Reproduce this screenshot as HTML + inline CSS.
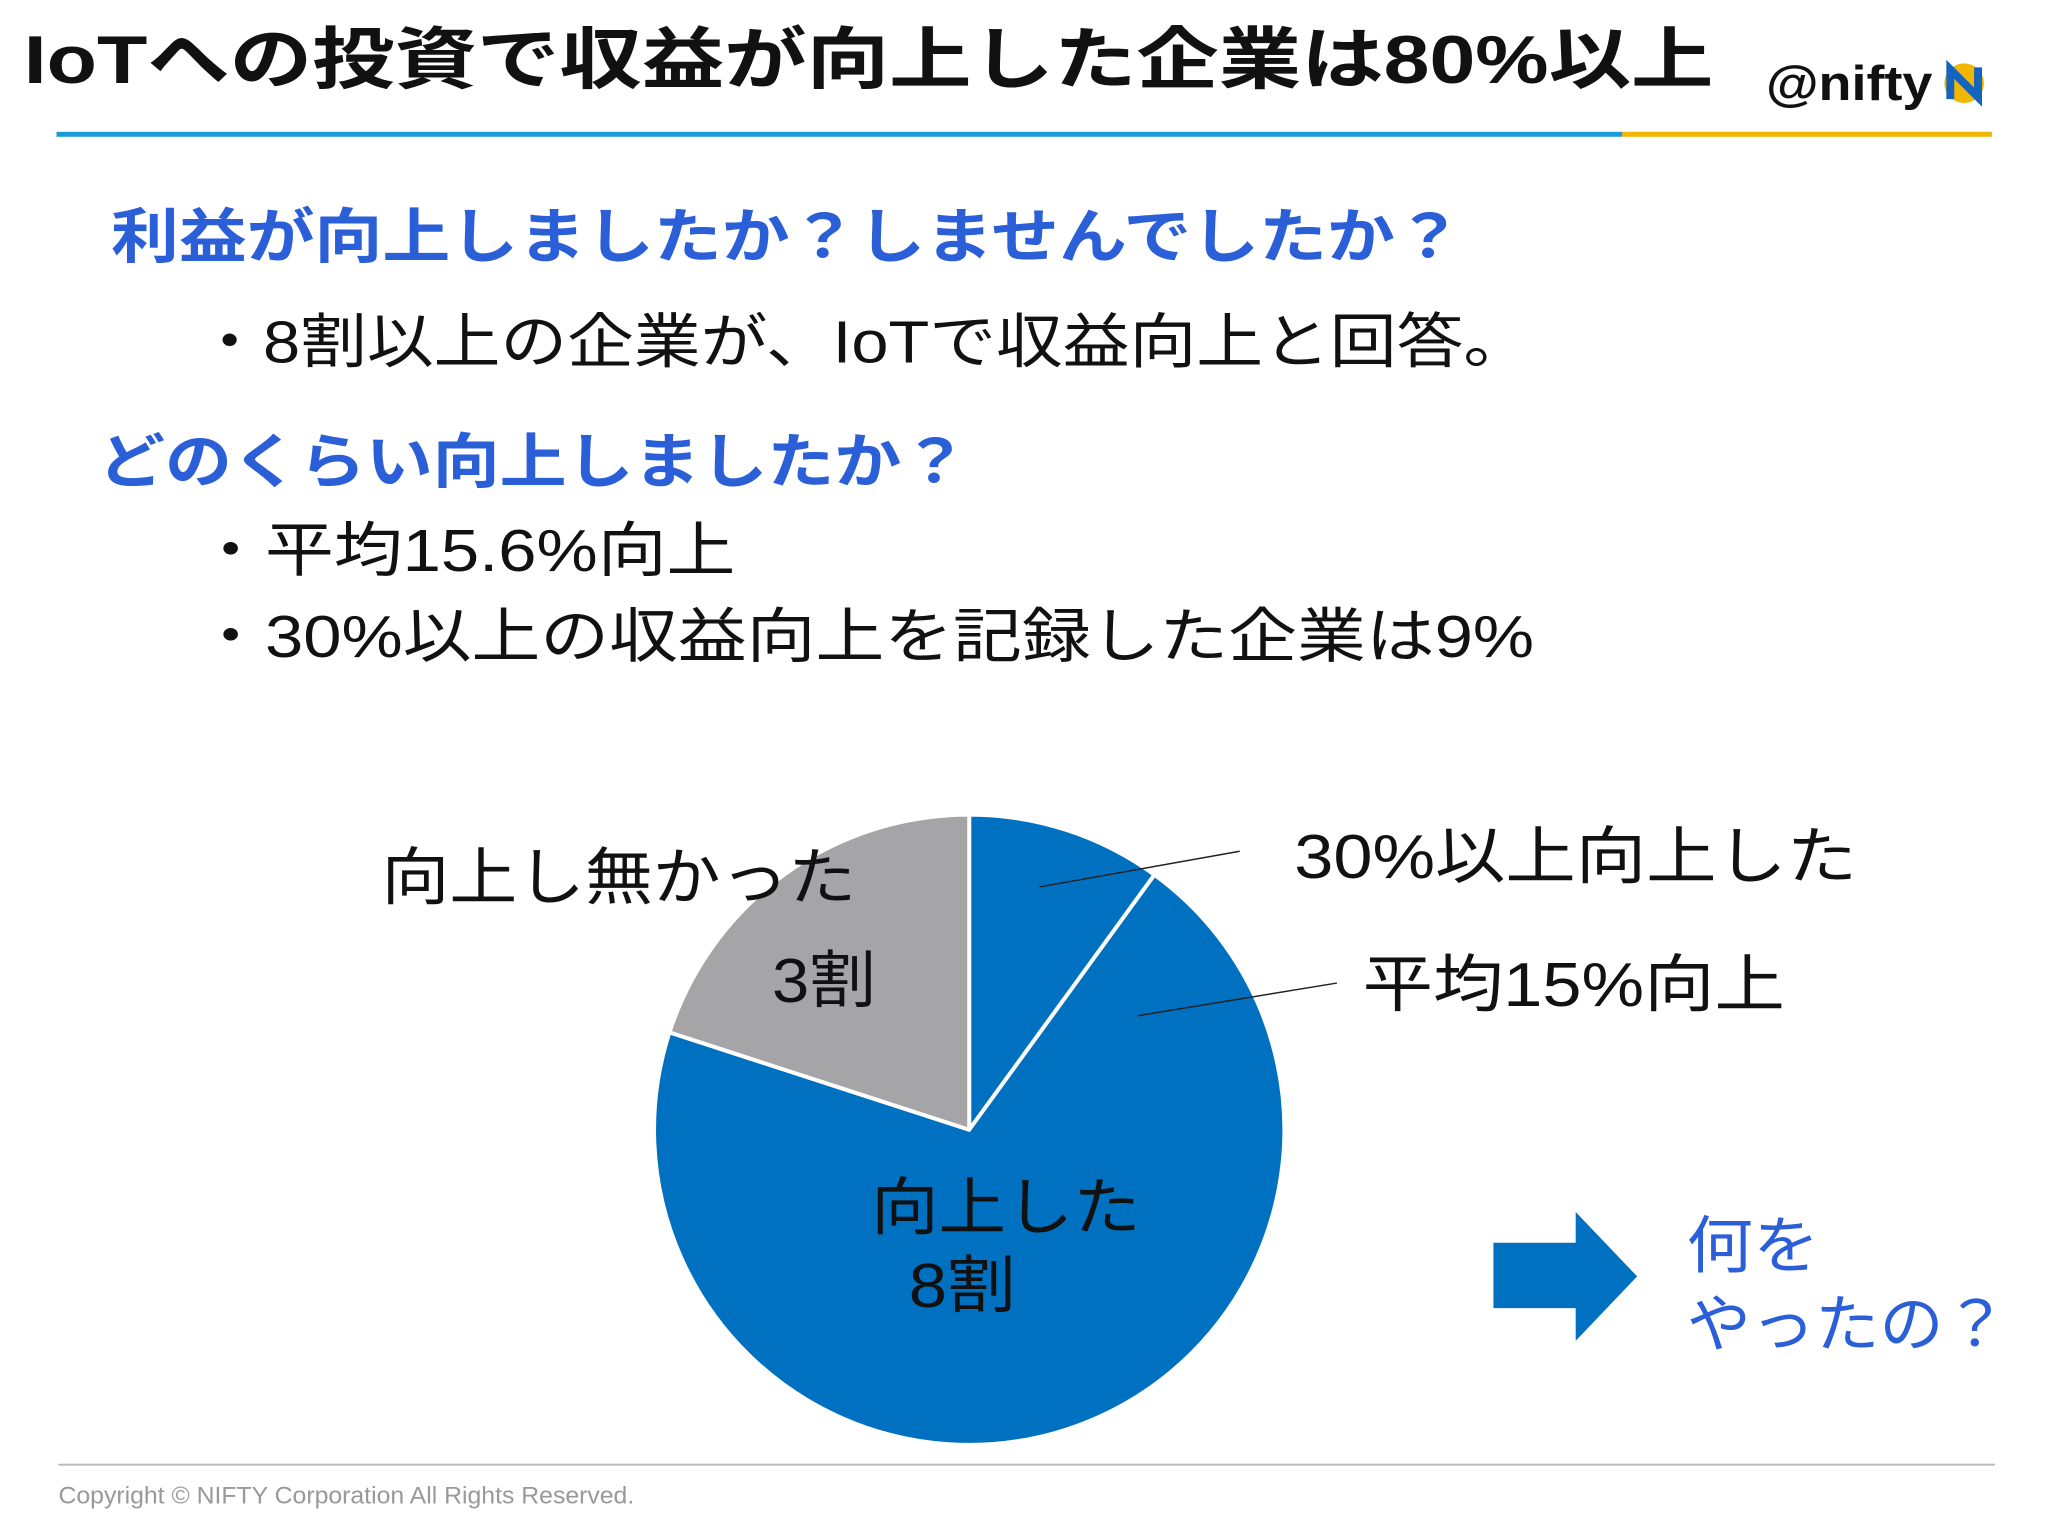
<!DOCTYPE html>
<html><head><meta charset="utf-8">
<style>
html,body{margin:0;padding:0;background:#fff;}
svg{display:block;}
text{font-family:"Liberation Sans","Noto Sans CJK JP",sans-serif;}
</style></head>
<body>
<svg id="s" width="2048" height="1536" viewBox="0 0 2048 1536">
<rect width="2048" height="1536" fill="#fff"/>
<g transform="scale(0.991)">
<text x="24" y="84" font-size="68" font-weight="bold" fill="#111" textLength="1705" lengthAdjust="spacingAndGlyphs">IoTへの投資で収益が向上した企業は80%以上</text>
<text x="1782" y="101" font-size="50" font-weight="bold" fill="#111" textLength="168" lengthAdjust="spacingAndGlyphs">@nifty</text>
<g>
<circle cx="1982" cy="84" r="20" fill="#f2b600"/>
<path d="M1968 100 L1968 70 L1996 98 L1996 68" stroke="#1565c0" stroke-width="8" fill="none"/>
</g>
<rect x="57" y="133" width="1580" height="5" fill="#1a9ad6"/>
<rect x="1637" y="133" width="373" height="5" fill="#f2b600"/>

<text x="112" y="260" font-size="60" font-weight="bold" fill="#2b5fd8" textLength="1364" lengthAdjust="spacingAndGlyphs">利益が向上しましたか？しませんでしたか？</text>
<text x="198" y="366" font-size="60" fill="#111" textLength="1346" lengthAdjust="spacingAndGlyphs">・8割以上の企業が、IoTで収益向上と回答。</text>
<text x="99" y="487" font-size="60" font-weight="bold" fill="#2b5fd8" textLength="878" lengthAdjust="spacingAndGlyphs">どのくらい向上しましたか？</text>
<text x="198" y="576" font-size="60" fill="#111" textLength="544" lengthAdjust="spacingAndGlyphs">・平均15.6%向上</text>
<text x="198" y="663" font-size="60" fill="#111" textLength="1350" lengthAdjust="spacingAndGlyphs">・30%以上の収益向上を記録した企業は9%</text>

<g id="pie"></g>

<line x1="1049" y1="895" x2="1251" y2="859" stroke="#222" stroke-width="1.5"/>
<line x1="1148" y1="1025" x2="1349" y2="992" stroke="#222" stroke-width="1.5"/>
<text x="1306" y="886" font-size="63" fill="#111" textLength="568" lengthAdjust="spacingAndGlyphs">30%以上向上した</text>
<text x="1375" y="1015" font-size="63" fill="#111" textLength="426" lengthAdjust="spacingAndGlyphs">平均15%向上</text>
<text x="385" y="907" font-size="63" fill="#111" textLength="479" lengthAdjust="spacingAndGlyphs">向上し無かった</text>
<text x="779" y="1011" font-size="63" fill="#111" textLength="105" lengthAdjust="spacingAndGlyphs">3割</text>
<text x="879" y="1240" font-size="63" fill="#111" textLength="272" lengthAdjust="spacingAndGlyphs">向上した</text>
<text x="917" y="1319" font-size="63" fill="#111" textLength="108" lengthAdjust="spacingAndGlyphs">8割</text>

<polygon points="1507,1254 1590,1254 1590,1223 1652,1288 1590,1353 1590,1320 1507,1320" fill="#0070c0"/>
<text x="1702" y="1279" font-size="63" fill="#2b5fd8" textLength="134" lengthAdjust="spacingAndGlyphs">何を</text>
<text x="1702" y="1358" font-size="63" fill="#2b5fd8" textLength="324" lengthAdjust="spacingAndGlyphs">やったの？</text>

<rect x="59" y="1477" width="1954" height="2" fill="#bbb"/>
<text x="59" y="1517" font-size="24" fill="#999" textLength="581" lengthAdjust="spacingAndGlyphs">Copyright © NIFTY Corporation All Rights Reserved.</text>
</g>
</svg>
<script>
const categories = ["30%以上向上", "向上(その他)", "向上し無かった"];
const shareValues = [10, 70, 20];
const sliceColors = ["#0070c0", "#0070c0", "#a5a5a7"];
const cx = 978, cy = 1140, r = 318;
const NS = "http://www.w3.org/2000/svg";
const g = document.getElementById("pie");
const total = shareValues.reduce((a, b) => a + b, 0);
function angleOf(v) { return v / total * 2 * Math.PI; }
function pt(a) { return [cx + r * Math.sin(a), cy - r * Math.cos(a)]; }
let start = 0;
shareValues.forEach((v, i) => {
  const end = start + angleOf(v);
  const [x1, y1] = pt(start), [x2, y2] = pt(end);
  const large = end - start > Math.PI ? 1 : 0;
  const p = document.createElementNS(NS, "path");
  p.setAttribute("d", `M${cx},${cy} L${x1},${y1} A${r},${r} 0 ${large} 1 ${x2},${y2} Z`);
  p.setAttribute("fill", sliceColors[i]);
  p.setAttribute("stroke", "#fff");
  p.setAttribute("stroke-width", "4");
  p.setAttribute("stroke-linejoin", "round");
  
  
  g.appendChild(p);
  start = end;
});
</script>
</body></html>
